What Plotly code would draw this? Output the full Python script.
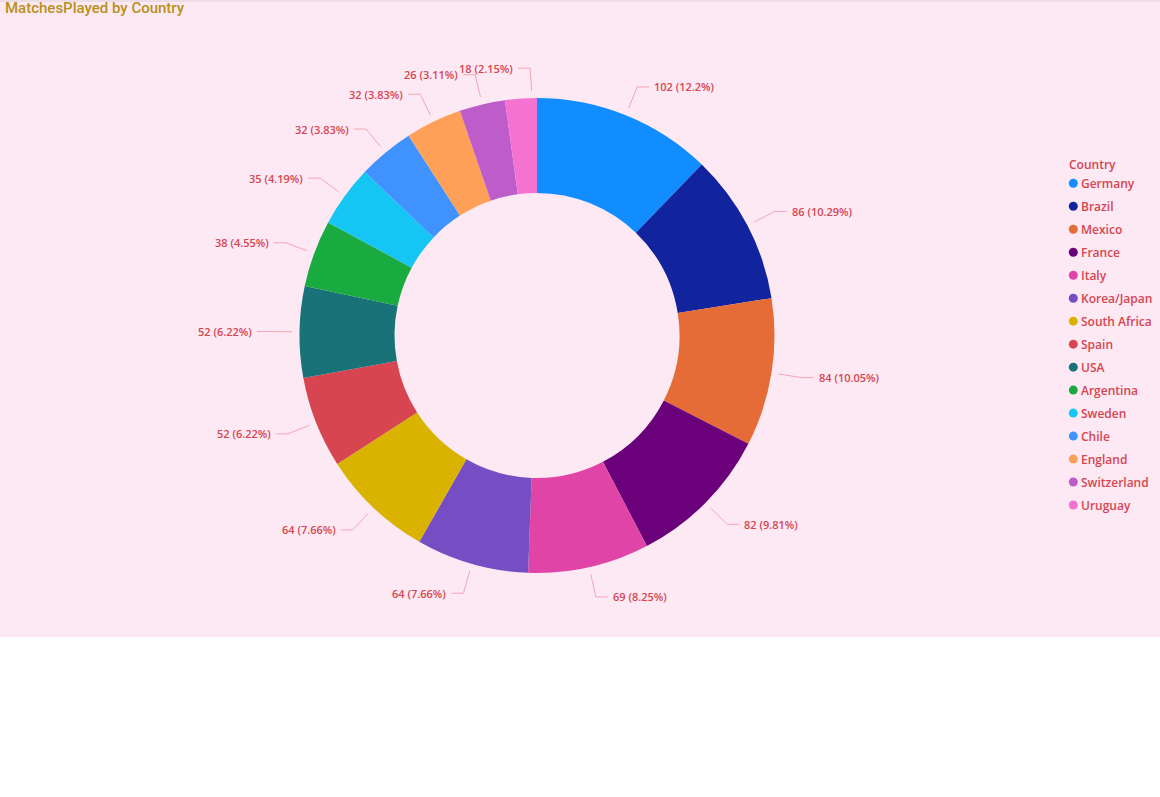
import math
import plotly.graph_objects as go

countries = ["Germany", "Brazil", "Mexico", "France", "Italy", "Korea/Japan", "South Africa",
             "Spain", "USA", "Argentina", "Sweden", "Chile", "England", "Switzerland", "Uruguay"]
matches = [102, 86, 84, 82, 69, 64, 64, 52, 52, 38, 35, 32, 32, 26, 18]
colors = ["#118DFF", "#12239E", "#E66C37", "#6B007B", "#E044A7", "#744EC2", "#D9B300",
          "#D64550", "#197278", "#1AAB40", "#15C6F4", "#4092FF", "#FFA058", "#BE5DC9", "#F472D0"]

W, H = 1160, 637
CX, CY, R = 537.0, 335.5, 237.5
LABEL_COLOR = "#D64550"
LINE_COLOR = "#F2A7B3"
FONT = "Segoe UI, Open Sans, sans-serif"
CHAR_W = 5.4   # approx. label character width (px)
LINE_H = 13    # approx. label line height (px)


def px(x):
    return x / W


def py(y):
    return 1 - y / H


fig = go.Figure()
fig.add_trace(go.Pie(
    labels=countries, values=matches, sort=False, direction="clockwise", rotation=0,
    hole=0.6, marker=dict(colors=colors, line=dict(width=0)),
    textinfo="none", showlegend=False,
    domain=dict(x=[px(CX - R), px(CX + R)], y=[py(CY + R), py(CY - R)]),
))

total = sum(matches)


def pct(v):
    s = f"{100 * v / total:.2f}".rstrip("0").rstrip(".")
    return f"{v} ({s}%)"


r1, r2, hlen, gap = 245, 268, 12, 3
labels = []
cum = 0
for v in matches:
    th = (cum + v / 2) / total * 2 * math.pi
    cum += v
    s, c = math.sin(th), math.cos(th)
    side = 1 if s >= 0 else -1
    txt = pct(v)
    labels.append(dict(x1=CX + r1 * s, y1=CY - r1 * c, x2=CX + r2 * s, y2=CY - r2 * c,
                       side=side, text=txt, w=len(txt) * CHAR_W, dx=0.0))


def box(L):
    x3 = L["x2"] + L["dx"] + L["side"] * hlen
    if L["side"] > 0:
        return x3 + gap, x3 + gap + L["w"]
    return x3 - gap - L["w"], x3 - gap


# simple collision avoidance between neighbouring labels on the left side
for i in range(len(labels) - 1):
    a, b = labels[i], labels[i + 1]
    if a["side"] < 0 and b["side"] < 0 and abs(a["y2"] - b["y2"]) < LINE_H:
        a0, a1 = box(a)
        b0, b1 = box(b)
        if b0 < a1:
            b["dx"] += a1 - b0 + 1

shapes = []
annotations = []
for L in labels:
    dx = L["dx"]
    x1, y1 = L["x1"] + dx, L["y1"]
    x2, y2 = L["x2"] + dx, L["y2"]
    x3 = x2 + L["side"] * hlen
    shapes.append(dict(type="path", xref="paper", yref="paper",
                       path=f"M {px(x1)},{py(y1)} L {px(x2)},{py(y2)} L {px(x3)},{py(y2)}",
                       line=dict(color=LINE_COLOR, width=1)))
    annotations.append(dict(x=px(x3 + L["side"] * gap), y=py(y2), xref="paper", yref="paper",
                            text=L["text"], showarrow=False,
                            xanchor="left" if L["side"] > 0 else "right", yanchor="middle",
                            font=dict(family=FONT, size=11, color=LABEL_COLOR, weight=600)))

# legend
annotations.append(dict(x=px(1067), y=py(164), xref="paper", yref="paper", text="Country",
                        showarrow=False, xanchor="left", yanchor="middle",
                        font=dict(family=FONT, size=12, color=LABEL_COLOR, weight=600)))
for i, (name, col) in enumerate(zip(countries, colors)):
    yc = 183.3 + 22.98 * i
    shapes.append(dict(type="circle", xref="paper", yref="paper",
                       x0=px(1073.3 - 4.5), x1=px(1073.3 + 4.5), y0=py(yc + 4.5), y1=py(yc - 4.5),
                       fillcolor=col, line=dict(width=0)))
    annotations.append(dict(x=px(1079), y=py(yc), xref="paper", yref="paper", text=name,
                            showarrow=False, xanchor="left", yanchor="middle",
                            font=dict(family=FONT, size=12, color=LABEL_COLOR, weight=600)))

# title
annotations.append(dict(x=px(3), y=py(8), xref="paper", yref="paper", text="MatchesPlayed by Country",
                        showarrow=False, xanchor="left", yanchor="middle",
                        font=dict(family="Roboto, sans-serif", size=15, color="#B8901A", weight=500)))

shapes.append(dict(type="rect", xref="paper", yref="paper", x0=0, x1=1, y0=py(2), y1=1,
                   fillcolor="#EDDDE7", line=dict(width=0), layer="below"))

fig.update_layout(width=W, height=H, margin=dict(l=0, r=0, t=0, b=0),
                  paper_bgcolor="#FCE9F4", plot_bgcolor="#FCE9F4",
                  shapes=shapes, annotations=annotations, showlegend=False)

fig.write_html("out.html")
